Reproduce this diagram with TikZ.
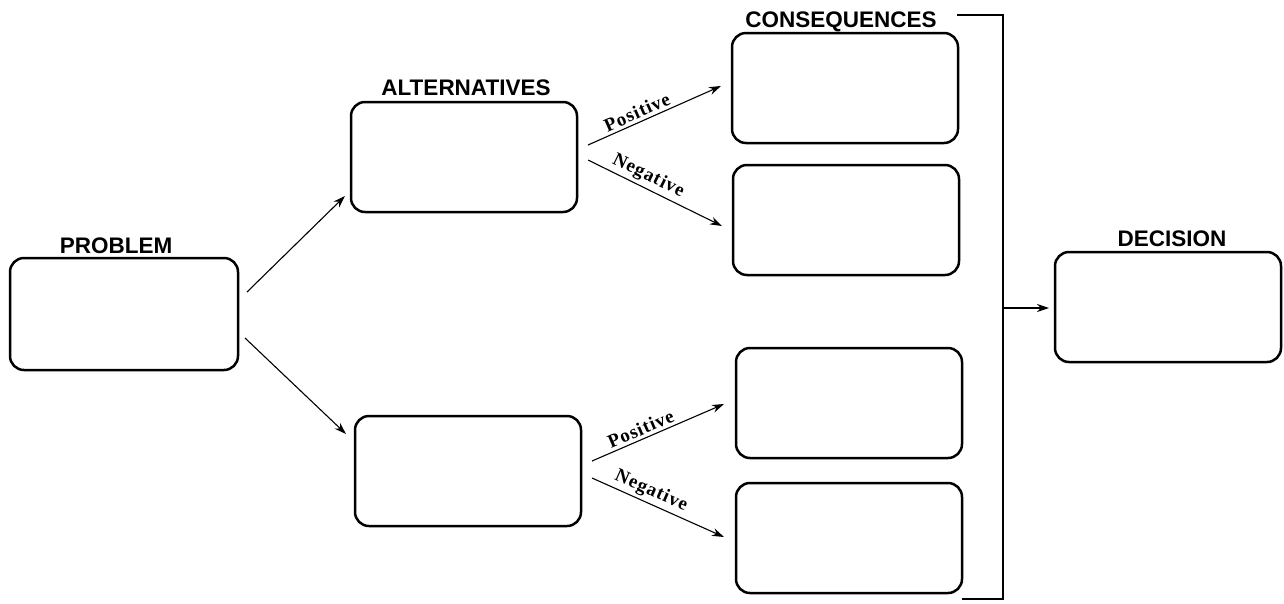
\documentclass[tikz,border=0pt]{standalone}
\usepackage{fontspec}
\setmainfont{Liberation Serif}
\setsansfont{Liberation Sans}
\usetikzlibrary{arrows.meta}
\begin{document}
\begin{tikzpicture}[x=1pt,y=-1pt,
  box/.style={draw,line width=2.5pt,rounded corners=14pt,minimum width=226pt,minimum height=110pt,inner sep=0pt},
  title/.style={font=\sffamily\bfseries\fontsize{22.5}{22.5}\selectfont,inner sep=0pt,anchor=base},
  conn/.style={line width=1.1pt,-{Stealth[length=12pt,width=8pt]}},
  lab/.style={font=\rmfamily\bfseries\fontsize{19}{19}\selectfont\addfontfeatures{LetterSpace=5},inner sep=0pt,sloped}]
\useasboundingbox (0,0) rectangle (1284,603);
% boxes
\node[box,minimum width=228pt,minimum height=112pt] (prob) at (124,314) {};
\node[box] (alt1) at (464,157) {};
\node[box] (alt2) at (468,471) {};
\node[box] (c1) at (845,88) {};
\node[box] (c2) at (846,220) {};
\node[box] (c3) at (849,403) {};
\node[box] (c4) at (849,538) {};
\node[box] (dec) at (1168,307) {};
% titles
\node[title] (tprob) at (116,253) {PROBLEM};
\node[title] (talt) at (466,95) {ALTERNATIVES};
\node[title] (tcons) at (841,27) {CONSEQUENCES};
\node[title] (tdec) at (1172,246) {DECISION};
% connectors from problem
\coordinate (p1) at (247,292);
\coordinate (p2) at (245,338);
\coordinate (a1) at (345,196);
\coordinate (a2) at (346,434);
\draw[conn] (p1) -- (a1);
\draw[conn] (p2) -- (a2);
% alternatives to consequences
\coordinate (s1p) at (588,145);
\coordinate (e1p) at (721,86);
\coordinate (s1n) at (588,160);
\coordinate (e1n) at (722,226);
\coordinate (s2p) at (592,461);
\coordinate (e2p) at (724,404);
\coordinate (s2n) at (592,478);
\coordinate (e2n) at (724,537);
\draw[conn] (s1p) -- node[lab,above=3pt,pos=0.4] {Positive} (e1p);
\draw[conn] (s1n) -- node[lab,above=3pt,pos=0.41] {Negative} (e1n);
\draw[conn] (s2p) -- node[lab,above=3pt,pos=0.4] {Positive} (e2p);
\draw[conn] (s2n) -- node[lab,above=3pt,pos=0.41] {Negative} (e2n);
% bracket
\coordinate (bt) at (957,15);
\coordinate (btr) at (1003,15);
\coordinate (bbr) at (1003,599);
\coordinate (bb) at (962,599);
\coordinate (bm) at (1003,308);
\coordinate (dm) at (1049,308);
\draw[line width=1.3pt] (bt) -- (btr) -- (bbr) -- (bb);
\draw[conn] (bm) -- (dm);
\end{tikzpicture}
\end{document}
